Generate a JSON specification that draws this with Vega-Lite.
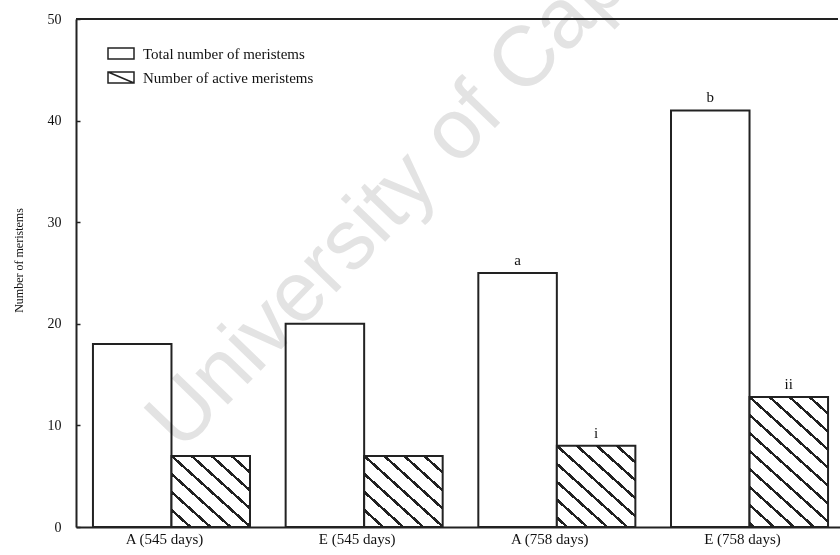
{
  "$schema": "https://vega.github.io/schema/vega-lite/v6.json",
  "width": 762,
  "height": 508,
  "autosize": {"type": "none"},
  "padding": {"left": 76, "top": 19, "right": 2, "bottom": 28},
  "background": "white",
  "config": {"font": "Liberation Serif", "view": {"stroke": null}},
  "data": {"values": [
    {"group": "A (545 days)", "series": "Total number of meristems", "value": 18, "note": ""},
    {"group": "A (545 days)", "series": "Number of active meristems", "value": 7, "note": ""},
    {"group": "E (545 days)", "series": "Total number of meristems", "value": 20, "note": ""},
    {"group": "E (545 days)", "series": "Number of active meristems", "value": 7, "note": ""},
    {"group": "A (758 days)", "series": "Total number of meristems", "value": 25, "note": "a"},
    {"group": "A (758 days)", "series": "Number of active meristems", "value": 8, "note": "i"},
    {"group": "E (758 days)", "series": "Total number of meristems", "value": 41, "note": "b"},
    {"group": "E (758 days)", "series": "Number of active meristems", "value": 12.8, "note": "ii"}
  ]},
  "layer": [
    {
      "encoding": {
        "x": {
          "field": "group", "type": "nominal",
          "sort": ["A (545 days)", "E (545 days)", "A (758 days)", "E (758 days)"],
          "scale": {"range": [0, 769], "paddingInner": 0.185, "paddingOuter": 0.088},
          "axis": {"title": null, "ticks": false, "labelPadding": 4, "labelFontSize": 15, "labelColor": "#111", "labelOffset": -7, "labelAngle": 0, "domainColor": "#222", "domainWidth": 2, "grid": false}
        },
        "xOffset": {
          "field": "series", "type": "nominal",
          "scale": {"domain": ["Total number of meristems", "Number of active meristems"], "paddingInner": 0, "paddingOuter": 0}
        },
        "y": {
          "field": "value", "type": "quantitative",
          "scale": {"domain": [0, 50], "nice": false},
          "axis": {"title": "Number of meristems", "values": [0, 10, 20, 30, 40, 50], "tickSize": -4, "tickColor": "#222", "tickWidth": 1.5, "labelPadding": 19, "labelFontSize": 14, "labelColor": "#111", "domainColor": "#222", "domainWidth": 2, "grid": false, "titleFontSize": 12, "titleFontWeight": "normal", "titleColor": "#111", "titlePadding": 22, "titleY": 241}
        }
      },
      "layer": [
        {
          "transform": [{"filter": "datum.series === 'Total number of meristems'"}],
          "mark": {"type": "bar", "fill": "white", "strokeWidth": 2},
          "encoding": {
            "stroke": {
              "field": "series", "type": "nominal",
              "scale": {"domain": ["Total number of meristems", "Number of active meristems"], "range": ["#222", "#222"]},
              "legend": {
                "title": null, "orient": "none", "legendX": 34, "legendY": 23.5, "padding": 0,
                "symbolSize": 400, "symbolStrokeWidth": 1.5, "symbolFillColor": "white", "symbolStrokeColor": "#222",
                "symbolType": {"expr": "datum.value === 'Number of active meristems' ? 'M-1.3,-0.55H1.3V0.55H-1.3Z M-1.3,-0.55L1.3,0.55' : 'M-1.3,-0.55H1.3V0.55H-1.3Z'"},
                "labelFontSize": 15, "labelFont": "Liberation Serif", "labelColor": "#111",
                "labelOffset": 11, "rowPadding": 4, "labelLimit": 0
              }
            }
          }
        },
        {
          "transform": [{"filter": "datum.series === 'Number of active meristems' && (datum.group === 'A (545 days)' || datum.group === 'E (545 days)')"}],
          "mark": {"type": "bar", "stroke": "#222", "strokeWidth": 2, "fill": {
            "gradient": "linear", "x1": 0, "y1": 1, "x2": 0.9969, "y2": -0.0032,
            "stops": [
              {"offset": 0, "color": "#fff"},
              {"offset": 0.1086, "color": "#fff"}, {"offset": 0.1086, "color": "#222"}, {"offset": 0.1326, "color": "#222"}, {"offset": 0.1326, "color": "#fff"},
              {"offset": 0.2356, "color": "#fff"}, {"offset": 0.2356, "color": "#222"}, {"offset": 0.2596, "color": "#222"}, {"offset": 0.2596, "color": "#fff"},
              {"offset": 0.3626, "color": "#fff"}, {"offset": 0.3626, "color": "#222"}, {"offset": 0.3866, "color": "#222"}, {"offset": 0.3866, "color": "#fff"},
              {"offset": 0.4896, "color": "#fff"}, {"offset": 0.4896, "color": "#222"}, {"offset": 0.5136, "color": "#222"}, {"offset": 0.5136, "color": "#fff"},
              {"offset": 0.6166, "color": "#fff"}, {"offset": 0.6166, "color": "#222"}, {"offset": 0.6406, "color": "#222"}, {"offset": 0.6406, "color": "#fff"},
              {"offset": 0.7436, "color": "#fff"}, {"offset": 0.7436, "color": "#222"}, {"offset": 0.7676, "color": "#222"}, {"offset": 0.7676, "color": "#fff"},
              {"offset": 0.8705, "color": "#fff"}, {"offset": 0.8705, "color": "#222"}, {"offset": 0.8945, "color": "#222"}, {"offset": 0.8945, "color": "#fff"},
              {"offset": 1, "color": "#fff"}
            ]
          }}
        },
        {
          "transform": [{"filter": "datum.series === 'Number of active meristems' && datum.group === 'A (758 days)'"}],
          "mark": {"type": "bar", "stroke": "#222", "strokeWidth": 2, "fill": {
            "gradient": "linear", "x1": 0, "y1": 1, "x2": 0.9253, "y2": -0.0648,
            "stops": [
              {"offset": 0, "color": "#fff"},
              {"offset": 0.0500, "color": "#fff"}, {"offset": 0.0500, "color": "#222"}, {"offset": 0.0724, "color": "#222"}, {"offset": 0.0724, "color": "#fff"},
              {"offset": 0.1685, "color": "#fff"}, {"offset": 0.1685, "color": "#222"}, {"offset": 0.1909, "color": "#222"}, {"offset": 0.1909, "color": "#fff"},
              {"offset": 0.2869, "color": "#fff"}, {"offset": 0.2869, "color": "#222"}, {"offset": 0.3093, "color": "#222"}, {"offset": 0.3093, "color": "#fff"},
              {"offset": 0.4054, "color": "#fff"}, {"offset": 0.4054, "color": "#222"}, {"offset": 0.4278, "color": "#222"}, {"offset": 0.4278, "color": "#fff"},
              {"offset": 0.5239, "color": "#fff"}, {"offset": 0.5239, "color": "#222"}, {"offset": 0.5462, "color": "#222"}, {"offset": 0.5462, "color": "#fff"},
              {"offset": 0.6423, "color": "#fff"}, {"offset": 0.6423, "color": "#222"}, {"offset": 0.6647, "color": "#222"}, {"offset": 0.6647, "color": "#fff"},
              {"offset": 0.7608, "color": "#fff"}, {"offset": 0.7608, "color": "#222"}, {"offset": 0.7832, "color": "#222"}, {"offset": 0.7832, "color": "#fff"},
              {"offset": 0.8792, "color": "#fff"}, {"offset": 0.8792, "color": "#222"}, {"offset": 0.9016, "color": "#222"}, {"offset": 0.9016, "color": "#fff"},
              {"offset": 1, "color": "#fff"}
            ]
          }}
        },
        {
          "transform": [{"filter": "datum.series === 'Number of active meristems' && datum.group === 'E (758 days)'"}],
          "mark": {"type": "bar", "stroke": "#222", "strokeWidth": 2, "fill": {
            "gradient": "linear", "x1": 0, "y1": 1, "x2": 0.6476, "y2": -0.1915,
            "stops": [
              {"offset": 0, "color": "#fff"},
              {"offset": 0.0115, "color": "#fff"}, {"offset": 0.0115, "color": "#222"}, {"offset": 0.0284, "color": "#222"}, {"offset": 0.0284, "color": "#fff"},
              {"offset": 0.1012, "color": "#fff"}, {"offset": 0.1012, "color": "#222"}, {"offset": 0.1181, "color": "#222"}, {"offset": 0.1181, "color": "#fff"},
              {"offset": 0.1909, "color": "#fff"}, {"offset": 0.1909, "color": "#222"}, {"offset": 0.2078, "color": "#222"}, {"offset": 0.2078, "color": "#fff"},
              {"offset": 0.2806, "color": "#fff"}, {"offset": 0.2806, "color": "#222"}, {"offset": 0.2975, "color": "#222"}, {"offset": 0.2975, "color": "#fff"},
              {"offset": 0.3703, "color": "#fff"}, {"offset": 0.3703, "color": "#222"}, {"offset": 0.3872, "color": "#222"}, {"offset": 0.3872, "color": "#fff"},
              {"offset": 0.4600, "color": "#fff"}, {"offset": 0.4600, "color": "#222"}, {"offset": 0.4770, "color": "#222"}, {"offset": 0.4770, "color": "#fff"},
              {"offset": 0.5497, "color": "#fff"}, {"offset": 0.5497, "color": "#222"}, {"offset": 0.5667, "color": "#222"}, {"offset": 0.5667, "color": "#fff"},
              {"offset": 0.6394, "color": "#fff"}, {"offset": 0.6394, "color": "#222"}, {"offset": 0.6564, "color": "#222"}, {"offset": 0.6564, "color": "#fff"},
              {"offset": 0.7291, "color": "#fff"}, {"offset": 0.7291, "color": "#222"}, {"offset": 0.7461, "color": "#222"}, {"offset": 0.7461, "color": "#fff"},
              {"offset": 0.8188, "color": "#fff"}, {"offset": 0.8188, "color": "#222"}, {"offset": 0.8358, "color": "#222"}, {"offset": 0.8358, "color": "#fff"},
              {"offset": 0.9085, "color": "#fff"}, {"offset": 0.9085, "color": "#222"}, {"offset": 0.9255, "color": "#222"}, {"offset": 0.9255, "color": "#fff"},
              {"offset": 1, "color": "#fff"}
            ]
          }}
        },
        {
          "mark": {"type": "text", "baseline": "bottom", "dy": -5, "fontSize": 15, "font": "Liberation Serif", "color": "#111"},
          "encoding": {"text": {"field": "note", "type": "nominal"}}
        }
      ]
    },
    {
      "mark": {"type": "rule", "stroke": "#222", "strokeWidth": 2},
      "encoding": {"y": {"datum": 50, "type": "quantitative"}}
    },
    {
      "data": {"values": [{"mark": "University of Cape Town"}]},
      "mark": {"type": "text", "font": "Liberation Sans", "fontSize": 85, "angle": -46, "align": "left", "baseline": "alphabetic", "color": "#e3e3e3", "blend": "multiply", "dx": 14},
      "encoding": {
        "x": {"datum": "A (545 days)", "type": "nominal"},
        "y": {"datum": 6.3, "type": "quantitative"},
        "text": {"field": "mark", "type": "nominal"}
      }
    }
  ]
}
